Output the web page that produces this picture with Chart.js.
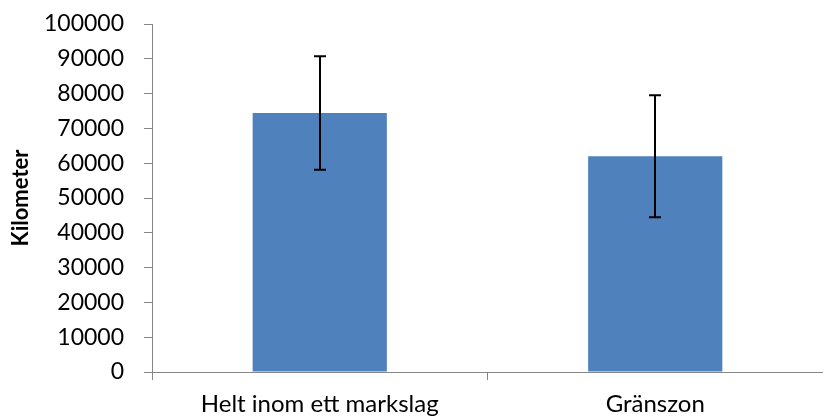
<!DOCTYPE html>
<html>
<head>
<meta charset="utf-8">
<script src="https://cdn.jsdelivr.net/npm/chart.js@4"></script>
<style>
html,body{margin:0;padding:0;background:#fff;}
#wrap{width:823px;height:418px;position:relative;}
</style>
</head>
<body>
<div id="wrap"><canvas id="c" width="823" height="418"></canvas></div>
<script>
const categories = ["Helt inom ett markslag", "Gränszon"];
const values = [74400, 62000];
const errors = [16300, 17500];
const yTicks = [0, 10000, 20000, 30000, 40000, 50000, 60000, 70000, 80000, 90000, 100000];
const yTitle = "Kilometer";

const errorBarPlugin = {
  id: 'errorBars',
  afterDatasetsDraw(chart) {
    const ctx = chart.ctx;
    const meta = chart.getDatasetMeta(0);
    const ys = chart.scales.y;
    ctx.save();
    ctx.strokeStyle = '#000';
    ctx.lineWidth = 2;
    meta.data.forEach((bar, i) => {
      const x = Math.round(bar.x);
      const top = ys.getPixelForValue(values[i] + errors[i]);
      const bot = ys.getPixelForValue(values[i] - errors[i]);
      const cap = 6;
      ctx.beginPath();
      ctx.moveTo(x, top); ctx.lineTo(x, bot);
      ctx.moveTo(x - cap, top); ctx.lineTo(x + cap, top);
      ctx.moveTo(x - cap, bot); ctx.lineTo(x + cap, bot);
      ctx.stroke();
    });
    ctx.restore();
  }
};

new Chart(document.getElementById('c'), {
  type: 'bar',
  data: {
    labels: categories,
    datasets: [{
      data: values,
      backgroundColor: '#4F81BD',
      borderWidth: 0,
      categoryPercentage: 0.4,
      barPercentage: 1.0
    }]
  },
  options: {
    responsive: false,
    animation: false,
    events: [],
    layout: { padding: { top: 24, right: 0, left: 0, bottom: 0 } },
    plugins: { legend: { display: false }, tooltip: { enabled: false } },
    scales: {
      x: {
        grid: { display: true, drawOnChartArea: false, drawTicks: true, tickLength: 8, color: '#868686', offset: true },
        border: { display: true, color: '#868686', width: 1 },
        ticks: { color: '#000', font: { family: 'Lato', size: 24 }, padding: 10, maxRotation: 0 },
        afterFit(s) { s.height = 46; s.paddingLeft = 0; s.paddingRight = 0; }
      },
      y: {
        min: 0, max: 100000,
        afterBuildTicks(s) { s.ticks = yTicks.map(v => ({ value: v })); },
        grid: { display: true, drawOnChartArea: false, drawTicks: true, tickLength: 8, color: '#868686' },
        border: { display: true, color: '#868686', width: 1 },
        ticks: { color: '#000', font: { family: 'Lato', size: 23 }, padding: 20, callback: (v) => String(v) },
        title: { display: true, text: yTitle, color: '#000', font: { family: 'Lato', size: 22, weight: 'bold' }, padding: { top: 8, bottom: 0 } },
        afterFit(s) { s.width = 152; s.paddingTop = 0; s.paddingBottom = 0; }
      }
    }
  },
  plugins: [errorBarPlugin]
});
</script>
</body>
</html>
